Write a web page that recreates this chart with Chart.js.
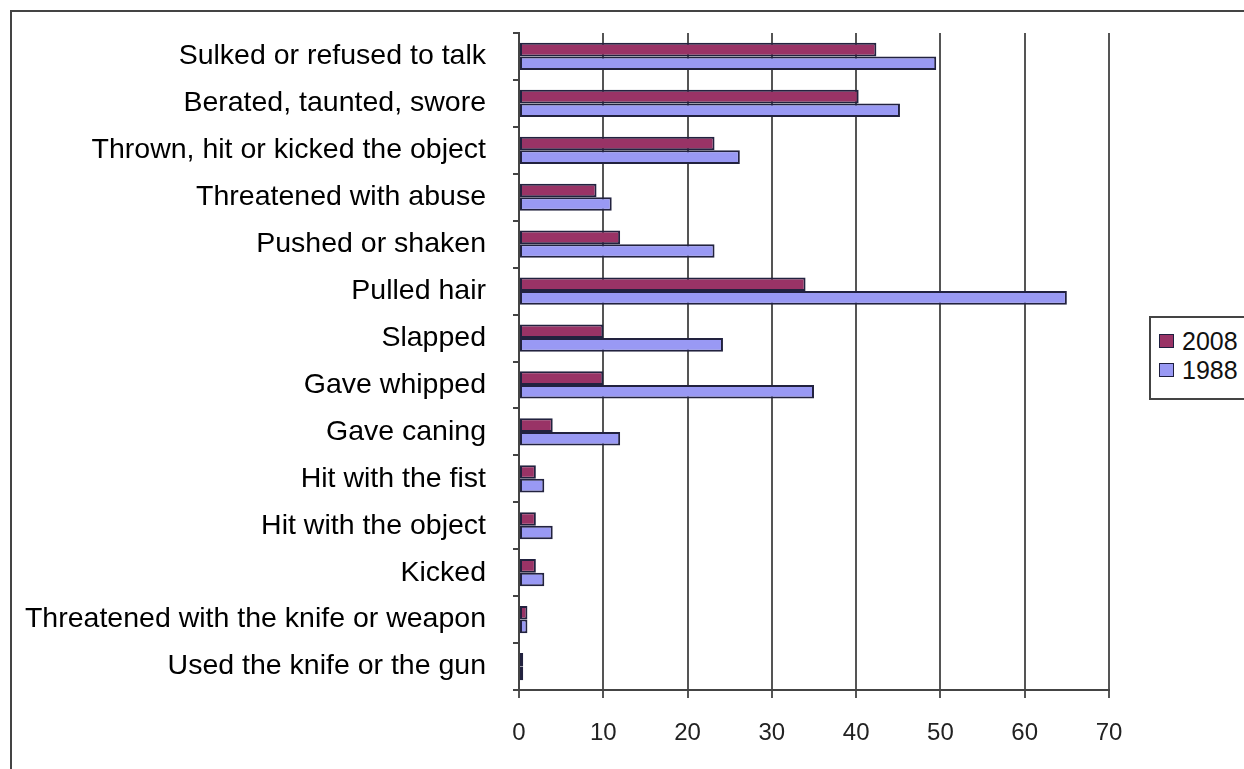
<!DOCTYPE html>
<html>
<head>
<meta charset="utf-8">
<script src="https://cdn.jsdelivr.net/npm/chart.js@4.4.1/dist/chart.umd.min.js"></script>
<style>
  html, body { margin: 0; padding: 0; background: #fff; overflow: hidden; }
  #wrap { position: relative; width: 1244px; height: 769px; }
  #frame { position: absolute; left: 10px; top: 10px; width: 1300px; height: 800px;
           border-top: 2px solid #444; border-left: 2px solid #444; }
  canvas { position: absolute; left: 0; top: 0; }
  #legend { position: absolute; left: 1149px; top: 316px; width: 120px; height: 80px;
            border: 2px solid #444; background: #fff;
            font-family: "Liberation Sans", Arial, sans-serif; font-size: 25px; color: #111; }
  .item { position: absolute; left: 8px; height: 28px; line-height: 28px; white-space: nowrap; }
  .sw { display: inline-block; width: 13px; height: 12px; border: 1.5px solid #1f1f3f;
        vertical-align: middle; margin-right: 8px; position: relative; top: -2px; }
</style>
</head>
<body>
<div id="wrap">
  <div id="frame"></div>
  <canvas id="c" width="1244" height="769"></canvas>
  <div id="legend"></div>
</div>
<script>
const categories = [
  "Sulked or refused to talk",
  "Berated, taunted, swore",
  "Thrown, hit or kicked the object",
  "Threatened with abuse",
  "Pushed or shaken",
  "Pulled hair",
  "Slapped",
  "Gave whipped",
  "Gave caning",
  "Hit with the fist",
  "Hit with the object",
  "Kicked",
  "Threatened with the knife or weapon",
  "Used the knife or the gun"
];
const series2008 = [42.4, 40.3, 23.2, 9.2, 12, 34, 10, 10, 4, 2, 2, 2, 1, 0.5];
const series1988 = [49.5, 45.2, 26.2, 11, 23.2, 65, 24.2, 35, 12, 3, 4, 3, 1, 0.5];
const seriesNames = ["2008", "1988"];
const seriesColors = ["#993366", "#9999f4"];
const xTicks = [0, 10, 20, 30, 40, 50, 60, 70];

const labelFont = { family: "'Liberation Sans', Arial, sans-serif", size: 28.5 };
const tickFont = { family: "'Liberation Sans', Arial, sans-serif", size: 24 };

new Chart(document.getElementById('c'), {
  type: 'bar',
  data: {
    labels: categories,
    datasets: [
      { label: seriesNames[0], data: series2008, backgroundColor: seriesColors[0],
        borderColor: '#22223f', borderWidth: 2, borderSkipped: false,
        categoryPercentage: 0.58, barPercentage: 1.0 },
      { label: seriesNames[1], data: series1988, backgroundColor: seriesColors[1],
        borderColor: '#22223f', borderWidth: 2, borderSkipped: false,
        categoryPercentage: 0.58, barPercentage: 1.0 }
    ]
  },
  options: {
    indexAxis: 'y',
    responsive: false,
    animation: false,
    layout: { padding: { top: 33, right: 135, left: 0, bottom: 0 } },
    plugins: { legend: { display: false }, tooltip: { enabled: false } },
    scales: {
      x: {
        min: 0, max: 70,
        afterBuildTicks: (s) => { s.ticks = xTicks.map(v => ({ value: v })); },
        afterFit: (s) => { s.height = 79; },
        ticks: { font: tickFont, color: '#222', padding: 21, maxRotation: 0 },
        grid: { color: '#555', lineWidth: 2, tickLength: 8, drawTicks: true },
        border: { display: true, color: '#444', width: 2 }
      },
      y: {
        afterFit: (s) => { s.width = 519; s.paddingTop = 0; s.paddingBottom = 0; },
        ticks: { font: labelFont, color: '#000', padding: 27, autoSkip: false },
        grid: { drawOnChartArea: false, color: '#444', lineWidth: 2, tickLength: 6, offset: true },
        border: { display: true, color: '#444', width: 2 }
      }
    }
  }
});

const lg = document.getElementById('legend');
seriesNames.forEach((n, i) => {
  const d = document.createElement('div');
  d.className = 'item';
  d.style.top = (i === 0 ? 9 : 38) + 'px';
  const sw = document.createElement('span');
  sw.className = 'sw';
  sw.style.background = seriesColors[i];
  d.appendChild(sw);
  d.appendChild(document.createTextNode(n));
  lg.appendChild(d);
});
</script>
</body>
</html>
